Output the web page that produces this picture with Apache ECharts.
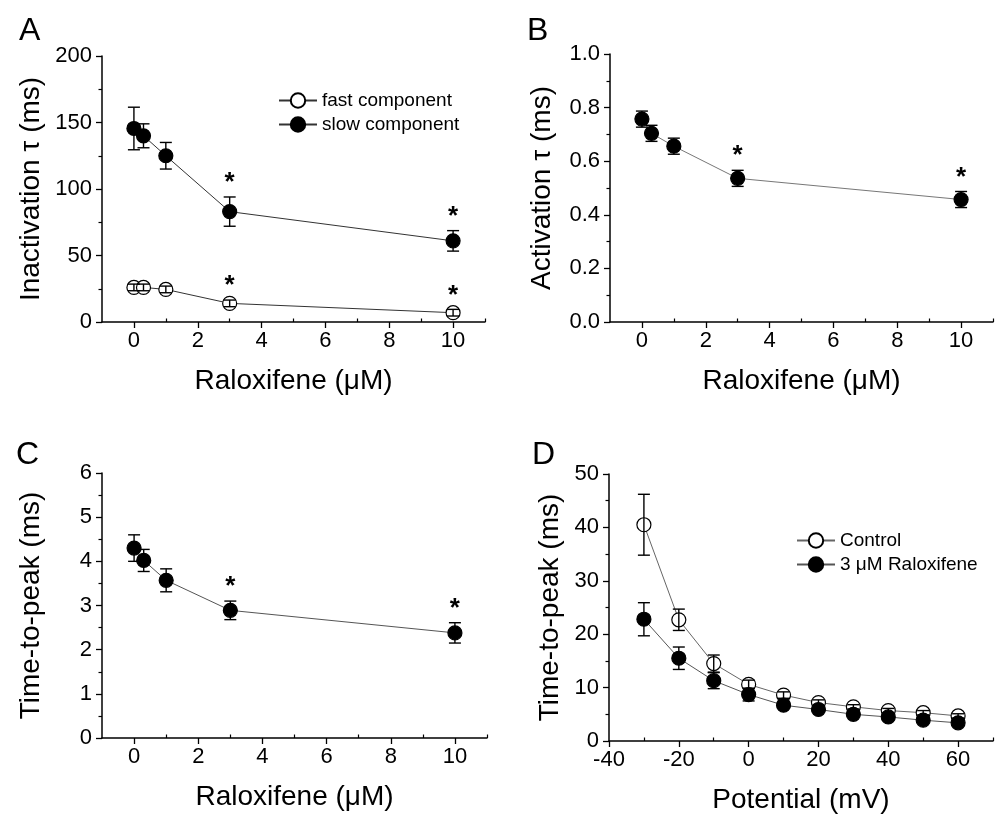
<!DOCTYPE html>
<html>
<head>
<meta charset="utf-8">
<script src="https://cdn.jsdelivr.net/npm/echarts@6.0.0/dist/echarts.min.js"></script>
<style>
  html, body { margin: 0; padding: 0; background: #fff; }
  #main { width: 996px; height: 815px; }
</style>
</head>
<body>
<div id="main"></div>
<script>
// ---- data ----
var concA = [0, 0.3, 1, 3, 10];
var slowA = [145.5, 140, 125, 83, 61];
var slowAErr = [16, 9, 10, 11, 7.7];
var fastA = [26, 26, 24.5, 14, 7];
var fastAErr = [2.5, 2.5, 2.5, 2.5, 2.5];
var starsA = [3, 10];

var actB = [0.757, 0.704, 0.656, 0.536, 0.457];
var actBErr = [0.03, 0.03, 0.03, 0.03, 0.03];

var ttpC = [4.30, 4.02, 3.57, 2.89, 2.38];
var ttpCErr = [0.30, 0.25, 0.26, 0.21, 0.23];

var voltD = [-30, -20, -10, 0, 10, 20, 30, 40, 50, 60];
var ctrlD = [40.5, 22.7, 14.5, 10.6, 8.6, 7.2, 6.4, 5.7, 5.3, 4.7];
var ctrlDErr = [5.7, 2.0, 1.6, 0.8, 0.6, 0.5, 0.4, 0.4, 0.4, 0.4];
var raloxD = [22.8, 15.5, 11.3, 8.7, 6.7, 5.9, 5.0, 4.5, 3.9, 3.4];
var raloxDErr = [3.1, 2.1, 1.5, 1.2, 0.6, 0.5, 0.4, 0.4, 0.4, 0.4];

var concTicks = [0, 2, 4, 6, 8, 10];
var concMinor = [1, 3, 5, 7, 9, 11];
var voltTicks = [-40, -20, 0, 20, 40, 60];
var voltMinor = [-30, -10, 10, 30, 50, 70];

var FONT = 'Liberation Sans, Arial, sans-serif';

function pts(xs, ys) { return xs.map(function (x, i) { return [x, ys[i]]; }); }
function errPts(xs, ys, es) { return xs.map(function (x, i) { return [x, ys[i] - es[i], ys[i] + es[i]]; }); }
function starPts(xs, ys, es, which) {
  var out = [];
  xs.forEach(function (x, i) { if (which.indexOf(x) >= 0) out.push([x, ys[i] + es[i]]); });
  return out;
}

function errRender(params, api) {
  var x = api.value(0);
  var top = api.coord([x, api.value(2)]);
  var bot = api.coord([x, api.value(1)]);
  var w = 6, st = { stroke: '#000', lineWidth: 1.4 };
  return { type: 'group', children: [
    { type: 'line', shape: { x1: top[0], y1: top[1], x2: bot[0], y2: bot[1] }, style: st },
    { type: 'line', shape: { x1: top[0] - w, y1: top[1], x2: top[0] + w, y2: top[1] }, style: st },
    { type: 'line', shape: { x1: bot[0] - w, y1: bot[1], x2: bot[0] + w, y2: bot[1] }, style: st }
  ]};
}
function starRender(params, api) {
  var p = api.coord([api.value(0), api.value(1)]);
  return { type: 'text', x: p[0], y: p[1] - 14,
    style: { text: '*', font: 'bold 26px ' + FONT, fill: '#000', align: 'center', verticalAlign: 'middle' } };
}

function xMain(grid, min, max, ticks, name) {
  return {
    type: 'value', gridIndex: grid, min: min, max: max,
    name: name, nameLocation: 'middle', nameGap: 45,
    nameTextStyle: { fontSize: 28, color: '#000', fontFamily: FONT },
    axisLine: { onZero: false, lineStyle: { color: '#000', width: 1.5 } },
    axisTick: { customValues: ticks, length: 6, lineStyle: { color: '#000', width: 1.3 } },
    axisLabel: { customValues: ticks, fontSize: 22, color: '#000', fontFamily: FONT, margin: 8 },
    splitLine: { show: false }
  };
}
function xMinor(grid, min, max, ticks) {
  return {
    type: 'value', gridIndex: grid, min: min, max: max,
    axisLine: { show: false },
    axisTick: { customValues: ticks, length: 3.5, lineStyle: { color: '#000', width: 1.2 } },
    axisLabel: { show: false },
    splitLine: { show: false }
  };
}
function yAxis(grid, max, interval, name, gap, fmt) {
  return {
    type: 'value', gridIndex: grid, min: 0, max: max, interval: interval,
    name: name, nameLocation: 'middle', nameGap: gap,
    nameTextStyle: { fontSize: 28, color: '#000', fontFamily: FONT },
    axisLine: { show: true, onZero: false, lineStyle: { color: '#000', width: 1.5 } },
    axisTick: { show: true, length: 6, lineStyle: { color: '#000', width: 1.3 } },
    minorTick: { show: true, splitNumber: 2, length: 3.5, lineStyle: { color: '#000', width: 1.2 } },
    axisLabel: { fontSize: 22, color: '#000', fontFamily: FONT, margin: 10, formatter: fmt },
    splitLine: { show: false }
  };
}

function lineSeries(name, xi, yi, data, filled, lineColor) {
  return {
    name: name, type: 'line', xAxisIndex: xi, yAxisIndex: yi, data: data,
    symbol: 'circle', symbolSize: 14, z: 2,
    lineStyle: { color: lineColor, width: 1 },
    itemStyle: { color: filled ? '#000' : '#fff', borderColor: '#000', borderWidth: 1.2 }
  };
}
function errSeries(xi, yi, data) {
  return { type: 'custom', xAxisIndex: xi, yAxisIndex: yi, data: data, renderItem: errRender, z: 3, silent: true };
}
function starSeries(xi, yi, data) {
  return { type: 'custom', xAxisIndex: xi, yAxisIndex: yi, data: data, renderItem: starRender, z: 3, silent: true };
}

var legendBase = {
  orient: 'vertical', itemWidth: 38, itemHeight: 18, itemGap: 5, padding: 0,
  textStyle: { fontSize: 19, color: '#000', fontFamily: FONT }
};

var chart = echarts.init(document.getElementById('main'));
var option = {
  animation: false,
  backgroundColor: '#fff',
  textStyle: { fontFamily: FONT },
  grid: [
    { left: 102, top: 56, width: 383, height: 266 },
    { left: 610, top: 54, width: 383, height: 268 },
    { left: 102, top: 473, width: 385, height: 265 },
    { left: 609, top: 474, width: 384, height: 268 }
  ],
  xAxis: [
    xMain(0, -1, 11, concTicks, 'Raloxifene (\u03bcM)'),
    xMain(1, -1, 11, concTicks, 'Raloxifene (\u03bcM)'),
    xMain(2, -1, 11, concTicks, 'Raloxifene (\u03bcM)'),
    xMain(3, -40, 70, voltTicks, 'Potential (mV)'),
    xMinor(0, -1, 11, concMinor),
    xMinor(1, -1, 11, concMinor),
    xMinor(2, -1, 11, concMinor),
    xMinor(3, -40, 70, voltMinor)
  ],
  yAxis: [
    yAxis(0, 200, 50, 'Inactivation \u03c4 (ms)', 57),
    yAxis(1, 1.0, 0.2, 'Activation \u03c4 (ms)', 54, function (v) { return v.toFixed(1); }),
    yAxis(2, 6, 1, 'Time-to-peak (ms)', 57),
    yAxis(3, 50, 10, 'Time-to-peak (ms)', 45)
  ],
  legend: [
    Object.assign({ data: ['fast component', 'slow component'], left: 278, top: 91 }, legendBase),
    Object.assign({ data: ['Control', '3 \u03bcM Raloxifene'], left: 796, top: 531 }, legendBase)
  ],
  graphic: [
    { type: 'text', left: 19, top: 15, style: { text: 'A', font: '32px ' + FONT, fill: '#000' } },
    { type: 'text', left: 527, top: 15, style: { text: 'B', font: '32px ' + FONT, fill: '#000' } },
    { type: 'text', left: 16, top: 439, style: { text: 'C', font: '32px ' + FONT, fill: '#000' } },
    { type: 'text', left: 532, top: 439, style: { text: 'D', font: '32px ' + FONT, fill: '#000' } }
  ],
  series: [
    lineSeries('fast component', 0, 0, pts(concA, fastA), false, '#333'),
    errSeries(0, 0, errPts(concA, fastA, fastAErr)),
    starSeries(0, 0, starPts(concA, fastA, fastAErr, starsA)),
    lineSeries('slow component', 0, 0, pts(concA, slowA), true, '#333'),
    errSeries(0, 0, errPts(concA, slowA, slowAErr)),
    starSeries(0, 0, starPts(concA, slowA, slowAErr, starsA)),

    lineSeries('activation', 1, 1, pts(concA, actB), true, '#777'),
    errSeries(1, 1, errPts(concA, actB, actBErr)),
    starSeries(1, 1, starPts(concA, actB, actBErr, starsA)),

    lineSeries('ttp', 2, 2, pts(concA, ttpC), true, '#555'),
    errSeries(2, 2, errPts(concA, ttpC, ttpCErr)),
    starSeries(2, 2, starPts(concA, ttpC, ttpCErr, starsA)),

    lineSeries('Control', 3, 3, pts(voltD, ctrlD), false, '#666'),
    errSeries(3, 3, errPts(voltD, ctrlD, ctrlDErr)),
    lineSeries('3 \u03bcM Raloxifene', 3, 3, pts(voltD, raloxD), true, '#555'),
    errSeries(3, 3, errPts(voltD, raloxD, raloxDErr))
  ]
};
chart.setOption(option);
</script>
</body>
</html>
